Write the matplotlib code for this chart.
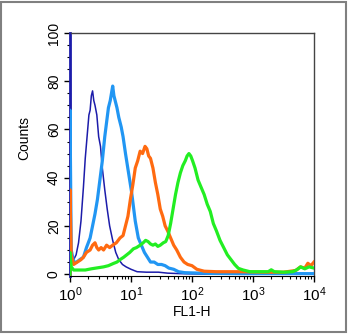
import numpy as np
import matplotlib
matplotlib.use('Agg')
import matplotlib.pyplot as plt
from matplotlib.patches import Rectangle
from matplotlib.ticker import MultipleLocator, LogLocator, NullFormatter

plt.rcParams['font.family'] = ['Liberation Sans', 'DejaVu Sans']
plt.rcParams['mathtext.fontset'] = 'custom'
plt.rcParams['mathtext.rm'] = 'Liberation Sans'

# FL1-H positions given as log10 exponents, counts
navy_logx = [0, 0.0, 0.02, 0.06, 0.10, 0.14, 0.18, 0.22, 0.25, 0.28, 0.31, 0.33, 0.35, 0.37, 0.39,
             0.41, 0.44, 0.47, 0.50, 0.53, 0.57, 0.61, 0.65, 0.70, 0.75, 0.80, 0.86, 0.92, 1.00,
             1.10, 1.25, 1.45, 1.60, 1.80, 2.2, 3.0, 4.0]
navy_y = [0, 110, 4, 6, 8, 13, 22, 36, 48, 57, 66, 68, 74, 76, 72,
          70, 66, 57, 53, 44, 35, 27, 20, 14, 9, 6, 4, 3, 2,
          1, 0.8, 0.8, 0.4, 0.2, 0, 0, 0]

lblue_logx = [0, 0.0, 0.02, 0.06, 0.11, 0.16, 0.22, 0.27, 0.33, 0.37, 0.41, 0.45, 0.49, 0.53,
              0.57, 0.60, 0.63, 0.66, 0.68, 0.70, 0.72, 0.74, 0.77, 0.80, 0.84, 0.87, 0.91, 0.96,
              1.01, 1.07, 1.12, 1.17, 1.22, 1.27, 1.32, 1.38, 1.44, 1.50, 1.56, 1.62, 1.70, 1.78,
              1.88, 2.0, 2.3, 2.8, 3.5, 4.0]
lblue_y = [0, 68, 10, 5, 5, 6, 7, 11, 15, 20, 25, 31, 39, 47,
           57, 63, 69, 72, 75, 78, 74, 72, 69, 65, 61, 57, 50, 42,
           34, 22, 15, 12, 9, 7, 5, 5, 4, 4, 3.5, 2.5, 2, 1,
           0.6, 0.5, 0.3, 0.2, 0.2, 0.2]

orange_logx = [0, 0.0, 0.02, 0.06, 0.12, 0.18, 0.22, 0.27, 0.33, 0.37, 0.41, 0.44, 0.47, 0.51,
               0.55, 0.60, 0.65, 0.70, 0.76, 0.82, 0.87, 0.91, 0.95, 0.99, 1.03, 1.07, 1.11, 1.15,
               1.19, 1.23, 1.26, 1.29, 1.32, 1.36, 1.40, 1.44, 1.48, 1.52, 1.56, 1.60, 1.65, 1.70,
               1.75, 1.81, 1.87, 1.93, 2.0, 2.08, 2.2, 2.4, 2.8, 3.2, 3.5, 3.7, 3.78, 3.85, 3.9,
               3.95, 4.0]
orange_y = [0, 35, 8, 4, 5, 6, 7, 9, 10, 12, 13, 11, 10, 11,
            10, 12, 11, 12, 13, 15, 16, 20, 24, 31, 37, 44, 47, 51,
            50, 53, 52, 49, 48, 44, 38, 33, 27, 24, 20, 18, 15, 12,
            10, 7, 5, 4, 3.5, 2, 1.2, 1.0, 1.0, 0.8, 0.8, 1.5, 3, 2.5, 4.5,
            3.5, 5]

green_logx = [0, 0.0, 0.02, 0.06, 0.15, 0.25, 0.35, 0.45, 0.55, 0.63, 0.71, 0.77, 0.82, 0.88,
              0.93, 0.98, 1.04, 1.09, 1.15, 1.20, 1.24, 1.28, 1.32, 1.36, 1.40, 1.44, 1.48, 1.53,
              1.57, 1.61, 1.65, 1.69, 1.73, 1.77, 1.81, 1.85, 1.89, 1.92, 1.95, 1.98, 2.01, 2.05,
              2.10, 2.15, 2.20, 2.25, 2.30, 2.35, 2.40, 2.46, 2.52, 2.58, 2.64, 2.70, 2.76, 2.84,
              2.95, 3.1, 3.25, 3.3, 3.35, 3.5, 3.65, 3.72, 3.78, 3.85, 3.92, 4.0]
green_y = [0, 9, 3, 1.7, 1.7, 1.7, 2.2, 2.6, 3, 3.5, 4.4, 5, 6, 7,
           8, 9, 10.5, 11, 12, 13, 14, 13.5, 12.5, 12, 12.5, 11.5, 12, 13,
           13.5, 16, 21, 27, 33, 38, 42, 45, 47, 49, 50, 49, 47, 44,
           39, 36, 33, 29, 26, 21, 18, 14, 11, 8, 6, 4, 2.4, 1.7,
           1, 1, 1, 1.8, 1, 0.8, 1.0, 1.8, 3, 2.2, 3, 2.5]

fig = plt.figure(figsize=(3.5, 3.35), dpi=100)
ax = fig.add_axes([0.2, 0.176, 0.697, 0.7254])

ax.plot(10 ** np.array(navy_logx), navy_y, color='#1c1caa', lw=1.1, zorder=3)
ax.plot(10 ** np.array(lblue_logx), lblue_y, color='#2196f3', lw=2.3, zorder=4)
ax.plot(10 ** np.array(orange_logx), orange_y, color='#ff6a10', lw=2.3, zorder=5)
ax.plot(10 ** np.array(green_logx), green_y, color='#22ee22', lw=2.3, zorder=6)

ax.set_xscale('log')
ax.set_xlim(1, 1e4)
ax.set_ylim(-0.8, 100)

ax.set_xticks([1, 10, 100, 1000, 10000])
ax.set_xticklabels([r'$\mathregular{10^{%d}}$' % i for i in range(5)], fontsize=11)
ax.xaxis.set_minor_locator(LogLocator(base=10, subs=np.arange(2, 10)))
ax.xaxis.set_minor_formatter(NullFormatter())

ax.set_yticks([0, 20, 40, 60, 80, 100])
ax.set_yticklabels(['0', '20', '40', '60', '80', '100'], rotation=90, va='center', fontsize=10)
ax.yaxis.set_minor_locator(MultipleLocator(5))

ax.tick_params(which='major', direction='out', length=4.5, width=1, pad=2)
ax.tick_params(which='minor', direction='out', length=2.5, width=0.8)

for s in ['top', 'right']:
    ax.spines[s].set_color('#444444')
    ax.spines[s].set_linewidth(1)
ax.spines['left'].set_color('#1c1caa')
ax.spines['left'].set_linewidth(2)

ax.set_xlabel('FL1-H', fontsize=10, labelpad=1)
ax.set_ylabel('Counts', fontsize=10)
ax.yaxis.set_label_coords(-0.16, 0.57)

fig.patches.append(Rectangle((0.004, 0.009), 0.984, 0.986, transform=fig.transFigure,
                             fill=False, edgecolor='#808080', lw=1.5))

fig.savefig('out.png', dpi=100)
